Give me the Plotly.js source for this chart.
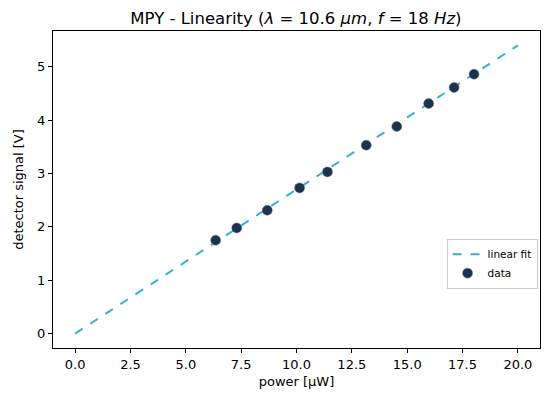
<!DOCTYPE html>
<html>
<head>
<meta charset="utf-8">
<script src="https://cdn.plot.ly/plotly-3.0.1.min.js"></script>
<style>html,body{margin:0;padding:0;background:#fff;}#chart{width:545px;height:397px;}</style>
</head>
<body>
<div id="chart"></div>
<script>
// Data
const powerData = [6.35, 7.3, 8.68, 10.14, 11.4, 13.15, 14.53, 15.97, 17.12, 18.02];
const signalData = [1.75, 1.98, 2.31, 2.73, 3.03, 3.53, 3.88, 4.31, 4.61, 4.86];
const fitPower = [0, 20];
const fitSignal = [0, 5.4];
const xTicks = [0, 2.5, 5, 7.5, 10, 12.5, 15, 17.5, 20];
const xTickLabels = ["0.0", "2.5", "5.0", "7.5", "10.0", "12.5", "15.0", "17.5", "20.0"];
const yTicks = [0, 1, 2, 3, 4, 5];

const font = "DejaVu Sans, sans-serif";

const traces = [
  {
    x: fitPower, y: fitSignal, type: "scatter", mode: "lines", name: "linear fit",
    line: {color: "#3aafd4", width: 2, dash: "dash"}
  },
  {
    x: powerData, y: signalData, type: "scatter", mode: "markers", name: "data",
    marker: {color: "#1e324e", size: 10, line: {color: "#6a7a90", width: 0.5}}
  }
];

const axisCommon = {
  showgrid: false, zeroline: false, showline: true, mirror: true,
  linecolor: "#000", linewidth: 1, ticks: "outside", ticklen: 4, tickwidth: 1,
  tickcolor: "#000", tickfont: {family: font, size: 13, color: "#000"}
};

const layout = {
  width: 545, height: 397,
  margin: {l: 53, r: 5, t: 31, b: 49},
  paper_bgcolor: "#fff", plot_bgcolor: "#fff",
  font: {family: font, color: "#000"},
  title: {
    text: "MPY - Linearity (<i>λ</i> = 10.6 <i>μm</i>, <i>f</i> = 18 <i>Hz</i>)",
    font: {family: font, size: 16.5, color: "#000"},
    x: 0.543, xanchor: "center", y: 0.955, yanchor: "middle"
  },
  xaxis: Object.assign({}, axisCommon, {
    range: [-1, 21], tickvals: xTicks, ticktext: xTickLabels,
    title: {text: "power [µW]", font: {family: font, size: 13, color: "#000"}, standoff: 6}
  }),
  yaxis: Object.assign({}, axisCommon, {
    range: [-0.27, 5.67], tickvals: yTicks,
    title: {text: "detector signal [V]", font: {family: font, size: 13, color: "#000"}, standoff: 10}
  }),
  showlegend: true,
  legend: {
    x: 0.995, y: 0.345, xanchor: "right", yanchor: "top",
    bgcolor: "rgba(255,255,255,0.8)", bordercolor: "#cccccc", borderwidth: 1,
    font: {family: font, size: 10.5, color: "#000"}, tracegroupgap: 0,
    itemwidth: 30
  }
};

Plotly.newPlot("chart", traces, layout, {displayModeBar: false, staticPlot: true});
</script>
</body>
</html>
